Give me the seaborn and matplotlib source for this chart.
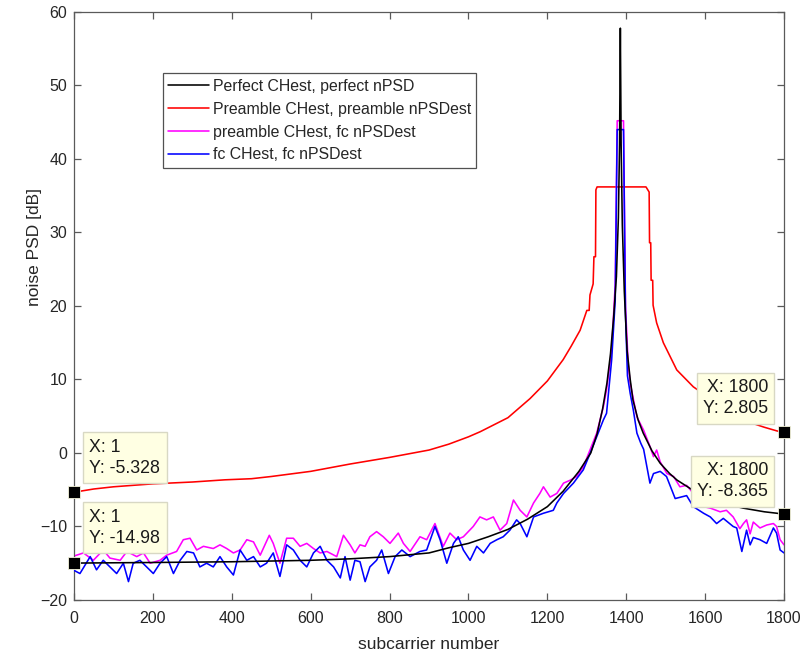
import matplotlib
matplotlib.use("Agg")
import matplotlib.pyplot as plt
import seaborn as sns
import pandas as pd

# ---------------- data ----------------
x_ticks = [0, 200, 400, 600, 800, 1000, 1200, 1400, 1600, 1800]
y_ticks = [-20, -10, 0, 10, 20, 30, 40, 50, 60]

labels = ["Perfect CHest, perfect nPSD",
          "Preamble CHest, preamble nPSDest",
          "preamble CHest, fc nPSDest",
          "fc CHest, fc nPSDest"]

perfect_x = [1, 200, 400, 600, 700, 800, 900, 950, 1000, 1050, 1100, 1150, 1200,
             1240, 1280, 1310, 1326, 1340, 1351, 1360, 1368, 1375, 1380, 1383,
             1385, 1387, 1390, 1395, 1402, 1410, 1417, 1430, 1443, 1465, 1486,
             1510, 1529, 1570, 1613, 1650, 1696, 1750, 1782, 1800]
perfect_y = [-14.98, -14.9, -14.8, -14.6, -14.4, -14.1, -13.6, -12.9, -12.3, -11.4,
             -10.4, -9.0, -7.3, -5.2, -2.5, 0.0, 2.6, 6.0, 9.5, 13.5, 18.5, 24.0,
             32.0, 42.0, 57.8, 42.0, 31.0, 22.0, 14.0, 10.0, 7.2, 4.5, 2.7, 0.3,
             -1.4, -2.8, -3.7, -5.1, -6.3, -6.9, -7.5, -8.0, -8.2, -8.365]

preamble_x = [1, 50, 100, 150, 200, 300, 383, 450, 500, 600, 700, 800, 900, 950,
              1000, 1030, 1100, 1156, 1200, 1240, 1260, 1283, 1300, 1306, 1308,
              1316, 1318, 1322, 1323, 1326, 1450, 1458, 1459, 1462, 1463, 1467,
              1468, 1477, 1494, 1528, 1570, 1613, 1650, 1700, 1722, 1750, 1782, 1800]
preamble_y = [-5.328, -4.9, -4.6, -4.4, -4.2, -3.95, -3.65, -3.5, -3.2, -2.5, -1.5,
              -0.6, 0.4, 1.2, 2.2, 2.9, 4.8, 7.4, 9.8, 12.7, 14.5, 16.7, 19.4,
              19.4, 21.5, 23.0, 26.7, 26.7, 35.8, 36.2, 36.2, 35.5, 28.6, 28.6,
              23.5, 23.5, 20.1, 17.7, 15.0, 11.3, 9.0, 7.4, 6.2, 5.0, 4.0, 3.5,
              3.0, 2.805]

pre_fc_x = [1, 24, 49, 74, 91, 117, 134, 159, 176, 193, 218, 235, 260, 277, 294,
            311, 328, 353, 370, 387, 404, 421, 438, 455, 472, 495, 505, 522, 539,
            556, 573, 590, 607, 624, 641, 666, 683, 700, 712, 725, 738, 750, 767,
            784, 801, 822, 835, 852, 877, 894, 915, 936, 953, 970, 987, 1012,
            1029, 1046, 1063, 1080, 1097, 1114, 1131, 1148, 1165, 1181, 1190,
            1207, 1224, 1241, 1258, 1274, 1291, 1308, 1325, 1342, 1350, 1363,
            1372, 1377, 1393, 1398, 1405, 1410, 1427, 1444, 1460, 1469, 1477,
            1486, 1503, 1520, 1536, 1553, 1570, 1596, 1613, 1638, 1654, 1671,
            1688, 1697, 1705, 1714, 1722, 1739, 1756, 1773, 1781, 1790, 1800]
pre_fc_y = [-14.0, -13.6, -14.6, -13.2, -14.3, -14.6, -13.4, -14.1, -13.6, -15.0,
            -14.6, -13.9, -13.4, -11.8, -11.6, -13.2, -12.7, -13.0, -12.5, -13.0,
            -13.6, -13.2, -11.8, -12.1, -13.9, -11.2, -12.3, -15.0, -11.6, -11.6,
            -12.7, -12.3, -13.0, -13.6, -13.4, -14.1, -11.2, -12.5, -13.6, -12.5,
            -12.7, -11.4, -10.7, -11.4, -12.3, -10.9, -12.3, -13.4, -11.4, -11.8,
            -9.6, -12.7, -10.9, -11.8, -11.4, -10.0, -8.7, -9.1, -8.7, -10.5,
            -9.6, -6.4, -7.8, -8.7, -6.8, -5.5, -4.6, -6.0, -5.5, -4.1, -3.7,
            -3.2, -1.9, 0.4, 2.7, 6.3, 8.6, 14.0, 23.0, 45.2, 45.2, 20.0, 12.0,
            9.5, 4.9, 3.1, 0.9, -0.5, 0.4, -1.2, -2.8, -3.2, -4.6, -4.4, -5.5,
            -7.3, -7.5, -8.0, -7.8, -8.7, -10.3, -9.6, -9.1, -11.0, -9.4, -10.2,
            -9.8, -9.6, -10.0, -11.8, -12.5]

fc_x = [1, 15, 41, 57, 74, 91, 108, 125, 138, 150, 167, 184, 201, 218, 235, 252,
        269, 286, 303, 319, 336, 353, 370, 387, 404, 421, 438, 455, 472, 488, 505,
        522, 539, 556, 573, 590, 607, 624, 641, 658, 675, 687, 700, 712, 725, 738,
        750, 767, 780, 797, 814, 831, 852, 877, 894, 915, 928, 945, 962, 974, 987,
        1004, 1021, 1038, 1055, 1072, 1088, 1105, 1122, 1131, 1148, 1165, 1190,
        1215, 1224, 1241, 1266, 1291, 1308, 1325, 1342, 1350, 1363, 1372, 1377,
        1393, 1398, 1403, 1410, 1418, 1427, 1437, 1444, 1460, 1469, 1486, 1502,
        1524, 1553, 1570, 1596, 1613, 1629, 1646, 1671, 1680, 1693, 1705, 1714,
        1722, 1739, 1756, 1773, 1781, 1790, 1800]
fc_y = [-16.0, -16.4, -14.1, -15.9, -14.6, -15.5, -16.4, -15.0, -17.5, -15.0,
        -14.6, -15.5, -16.4, -15.0, -14.1, -16.4, -14.6, -13.4, -13.6, -15.5,
        -15.0, -15.5, -14.1, -15.5, -16.6, -13.2, -14.6, -14.1, -15.5, -15.0,
        -13.6, -16.8, -12.5, -13.2, -14.6, -15.5, -13.6, -12.7, -14.6, -15.5,
        -17.0, -14.1, -17.3, -14.6, -14.8, -17.5, -15.5, -14.6, -13.2, -16.4,
        -14.1, -13.2, -14.1, -13.4, -13.2, -10.0, -11.8, -15.0, -12.3, -11.4,
        -13.2, -14.6, -12.7, -13.6, -12.3, -11.8, -11.4, -10.5, -9.1, -9.6,
        -11.4, -8.7, -8.2, -7.8, -6.8, -5.5, -4.1, -2.3, -0.1, 2.2, 4.5, 5.4,
        12.7, 20.8, 44.0, 44.0, 19.0, 10.5, 8.1, 5.8, 2.7, 1.3, 0.5, -4.1,
        -2.8, -2.5, -3.2, -6.2, -5.8, -7.3, -8.2, -8.7, -9.6, -8.9, -10.0,
        -10.2, -13.4, -10.5, -12.5, -11.5, -11.8, -12.3, -10.2, -10.9, -13.2,
        -13.6]

# data tips
tip_x = [1, 1, 1800, 1800]
tip_y = [-5.328, -14.98, 2.805, -8.365]
tip_text = ["X: 1\nY: -5.328", "X: 1\nY: -14.98",
            "X: 1800\nY: 2.805", "X: 1800\nY: -8.365"]

# ---------------- figure ----------------
sns.set_style("ticks")
plt.rcParams["font.family"] = ["Liberation Sans", "DejaVu Sans"]

fig = plt.figure(figsize=(8.03, 6.55), dpi=100)
ax = fig.add_axes([0.0922, 0.0840, 0.8842, 0.8977])

series = [
    (perfect_x, perfect_y, "#000000", 4),
    (preamble_x, preamble_y, "#FF0000", 2),
    (pre_fc_x, pre_fc_y, "#FF00FF", 2.5),
    (fc_x, fc_y, "#0000FF", 3),
]
handles = []
for (xs, ys, col, z), lab in zip(series, labels):
    df = pd.DataFrame({"subcarrier": xs, "psd": ys})
    sns.lineplot(data=df, x="subcarrier", y="psd", ax=ax, color=col,
                 linewidth=1.15, sort=False, estimator=None, zorder=z)
    handles.append(ax.lines[-1])

ax.set_xlim(0, 1800)
ax.set_ylim(-20, 60)
ax.set_xticks(x_ticks)
ax.set_yticks(y_ticks)
ax.set_xlabel("subcarrier number", fontsize=12.5, color="#262626", labelpad=8)
ax.set_ylabel("noise PSD [dB]", fontsize=12.5, color="#262626")
ax.yaxis.set_label_coords(-0.045, 0.60)

for sp in ax.spines.values():
    sp.set_color("#5a5a5a")
    sp.set_linewidth(0.9)
ax.tick_params(direction="in", top=True, right=True, length=5, width=0.9,
               colors="#5a5a5a", labelcolor="#262626", labelsize=11.5)
ax.tick_params(axis="x", pad=8)
ax.tick_params(axis="y", pad=5)

leg = ax.legend(handles, labels, loc="upper left", bbox_to_anchor=(0.125, 0.896),
                borderaxespad=0, frameon=True, fancybox=False, fontsize=11.4,
                handlelength=2.6, handletextpad=0.2, labelspacing=0.5,
                borderpad=0.35)
leg.get_frame().set_edgecolor("#262626")
leg.get_frame().set_linewidth(0.9)
leg.set_zorder(10)

offsets = [(15, 15), (15, 16), (-16, 15), (-16, 14)]
aligns = ["left", "left", "right", "right"]
for tx, ty, tt, off, ha in zip(tip_x, tip_y, tip_text, offsets, aligns):
    ax.annotate(tt, xy=(tx, ty), xytext=off, textcoords="offset pixels",
                ha=ha, va="bottom", fontsize=12.8, color="#1a1a1a",
                linespacing=1.35, zorder=11,
                bbox=dict(boxstyle="square,pad=0.35", fc="#FFFFE3",
                          ec="#D8D8C4", lw=1.0))
    ax.plot([tx], [ty], marker="s", markersize=8.5, color="black",
            markeredgecolor="#F5F5DC", markeredgewidth=0.6, clip_on=False,
            zorder=12)

fig.savefig("out.png", dpi=100)
